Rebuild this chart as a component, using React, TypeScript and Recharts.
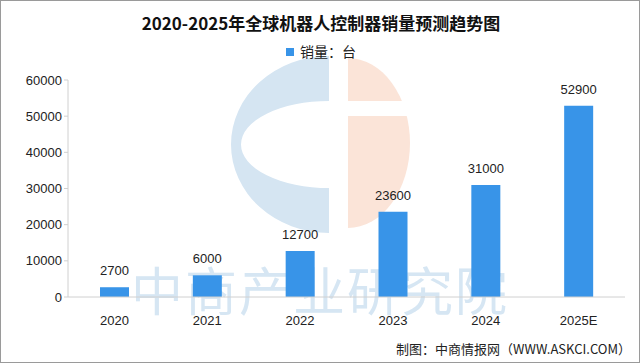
import React from 'react';
import { BarChart, Bar, XAxis, YAxis, LabelList } from 'recharts';

const years = ['2020', '2021', '2022', '2023', '2024', '2025E'];
const sales = [2700, 6000, 12700, 23600, 31000, 52900];
const yTicks = [0, 10000, 20000, 30000, 40000, 50000, 60000];

const chartData = years.map((year, i) => ({ year, sales: sales[i] }));

const numFont = '"Liberation Sans", Arial, sans-serif';
const cjkFont = '"Noto Sans CJK SC", sans-serif';
const barColor = '#3894e8';

// faint logo watermark behind the plot
function Logo() {
  return (
    <svg width={640} height={363} style={{ position: 'absolute', left: 0, top: 0 }}>
      <path
        d="M328 55 A98 88.5 0 0 0 328 232 L328 187 A88 43.5 0 0 1 328 100 Z"
        fill="#d5e5f2"
      />
      <path d="M347 57 A62 85 0 0 1 347 227 Z" fill="#fbe4d8" />
      <rect x={346} y={100} width={70} height={15} fill="#fff" />
    </svg>
  );
}

export default function App() {
  return (
    <div
      style={{
        position: 'absolute',
        left: 0,
        top: 0,
        width: 640,
        height: 363,
        background: '#fff',
        overflow: 'hidden',
        boxSizing: 'border-box',
        border: '1px solid #9a9a9a',
      }}
    >
      <Logo />
      <div
        style={{
          position: 'absolute',
          left: 130,
          top: 263,
          width: 390,
          fontFamily: cjkFont,
          fontSize: 52,
          letterSpacing: 2,
          color: '#d6e6f3',
          whiteSpace: 'nowrap',
          lineHeight: '50px',
        }}
      >
        中商产业研究院
      </div>

      <div
        style={{
          position: 'absolute',
          left: 0,
          top: 10,
          width: 640,
          textAlign: 'center',
          fontFamily: cjkFont,
          fontWeight: 700,
          fontSize: 17,
          lineHeight: '24px',
          color: '#111',
        }}
      >
        2020-2025年全球机器人控制器销量预测趋势图
      </div>
      <div
        style={{
          position: 'absolute',
          left: 0,
          top: 40,
          width: 640,
          textAlign: 'center',
          fontFamily: cjkFont,
          fontSize: 14,
          lineHeight: '20px',
          color: '#222',
        }}
      >
        <span
          style={{
            display: 'inline-block',
            width: 8,
            height: 8,
            background: barColor,
            marginRight: 6,
            verticalAlign: 'middle',
            position: 'relative',
            top: -1,
          }}
        />
        销量：台
      </div>

      <div style={{ position: 'absolute', left: -1, top: -1 }}>
        <BarChart
          width={640}
          height={363}
          data={chartData}
          margin={{ top: 80, right: 15, bottom: 36, left: 0 }}
        >
          <XAxis
            dataKey="year"
            height={30}
            axisLine={{ stroke: '#d0d0d0' }}
            tickLine={false}
            tick={{ fill: '#222', fontSize: 13, fontFamily: numFont }}
            tickMargin={13}
          />
          <YAxis
            width={68}
            domain={[0, 60000]}
            ticks={yTicks}
            interval={0}
            axisLine={{ stroke: '#d0d0d0' }}
            tickLine={{ stroke: '#d0d0d0' }}
            tickSize={4}
            tick={{ fill: '#222', fontSize: 13, fontFamily: numFont }}
          />
          <Bar dataKey="sales" fill={barColor} barSize={29} isAnimationActive={false}>
            <LabelList
              dataKey="sales"
              position="top"
              offset={12}
              style={{ fill: '#222', fontSize: 13, fontFamily: numFont }}
            />
          </Bar>
        </BarChart>
      </div>

      <div
        style={{
          position: 'absolute',
          right: 8,
          top: 339,
          fontFamily: cjkFont,
          fontSize: 13,
          lineHeight: '18px',
          color: '#222',
          whiteSpace: 'nowrap',
        }}
      >
        制图：中商情报网（WWW.ASKCI.COM）
      </div>
    </div>
  );
}
